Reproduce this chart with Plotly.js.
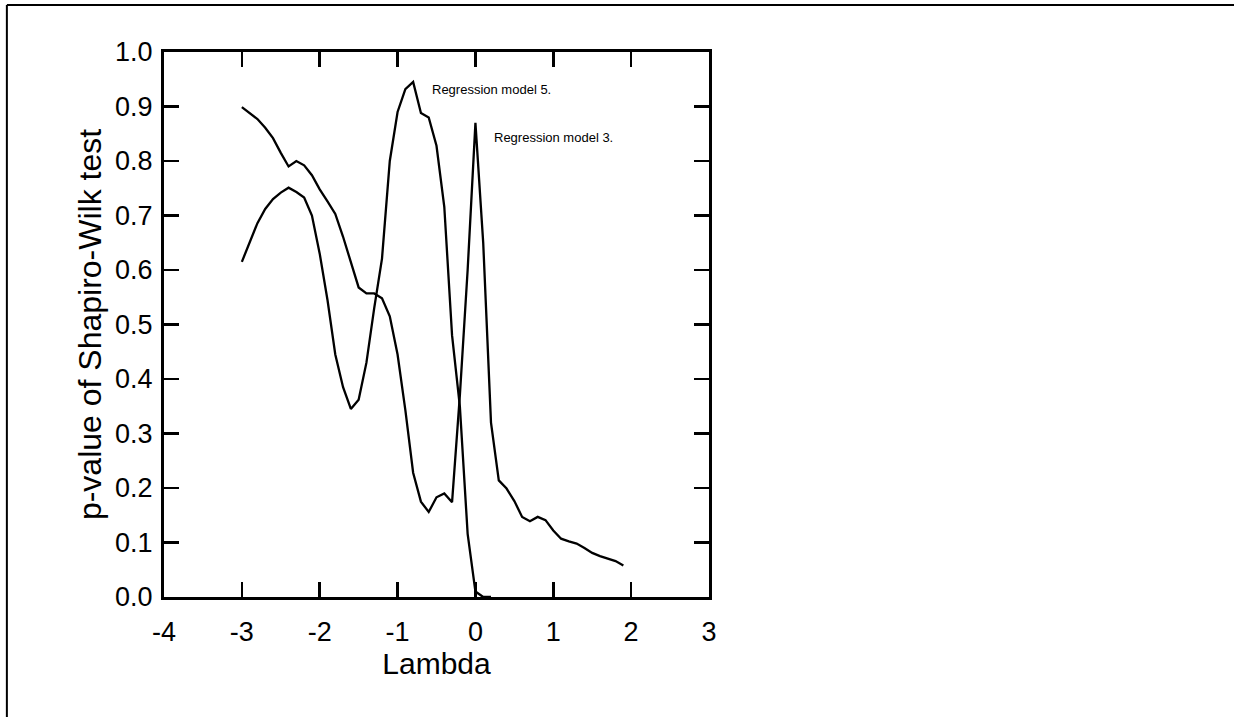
<!DOCTYPE html>
<html>
<head>
<meta charset="utf-8">
<script src="https://cdn.plot.ly/plotly-3.0.1.min.js"></script>
<style>
html,body{margin:0;padding:0;background:#fff;}
#chart{width:1234px;height:717px;}
</style>
</head>
<body>
<div id="chart"></div>
<script>
// Regression model 3
const lambda3 = [-3.0,-2.9,-2.8,-2.7,-2.6,-2.5,-2.4,-2.3,-2.2,-2.1,-2.0,-1.9,-1.8,-1.7,-1.6,-1.5,-1.4,-1.3,-1.2,-1.1,-1.0,-0.9,-0.8,-0.7,-0.6,-0.5,-0.4,-0.3,-0.2,-0.1,0.0,0.1,0.2,0.3,0.4,0.5,0.6,0.7,0.8,0.9,1.0,1.1,1.2,1.3,1.4,1.5,1.6,1.7,1.8,1.9];
const pval3 = [0.899,0.888,0.877,0.861,0.842,0.815,0.790,0.800,0.792,0.774,0.748,0.726,0.703,0.661,0.615,0.568,0.557,0.557,0.548,0.515,0.445,0.343,0.228,0.175,0.156,0.183,0.190,0.174,0.370,0.600,0.870,0.650,0.320,0.214,0.199,0.176,0.147,0.139,0.147,0.141,0.122,0.107,0.102,0.098,0.090,0.081,0.075,0.071,0.066,0.058];
// Regression model 5
const lambda5 = [-3.0,-2.9,-2.8,-2.7,-2.6,-2.5,-2.4,-2.3,-2.2,-2.1,-2.0,-1.9,-1.8,-1.7,-1.6,-1.5,-1.4,-1.3,-1.2,-1.1,-1.0,-0.9,-0.8,-0.7,-0.6,-0.5,-0.4,-0.3,-0.2,-0.1,0.0,0.1,0.2];
const pval5 = [0.615,0.652,0.686,0.712,0.730,0.742,0.751,0.743,0.733,0.700,0.630,0.545,0.445,0.385,0.345,0.362,0.430,0.530,0.621,0.800,0.890,0.932,0.945,0.888,0.880,0.828,0.716,0.480,0.350,0.116,0.010,0.0,0.0];

const xTicks = [-4,-3,-2,-1,0,1,2,3];
const yTicks = [0.0,0.1,0.2,0.3,0.4,0.5,0.6,0.7,0.8,0.9,1.0];
const yTickText = ['0.0','0.1','0.2','0.3','0.4','0.5','0.6','0.7','0.8','0.9','1.0'];

const labels = ['Regression model 5.', 'Regression model 3.'];
const labelX = [-0.58, 0.21];
const labelY = [0.932, 0.844];

const font = 'Arial, "Liberation Sans", sans-serif';

const traces = [
  {x: lambda3, y: pval3, mode: 'lines', line: {color: '#000', width: 2.3}, hoverinfo: 'skip', showlegend: false},
  {x: lambda5, y: pval5, mode: 'lines', line: {color: '#000', width: 2.3}, hoverinfo: 'skip', showlegend: false}
];

const axisCommon = {
  showgrid: false, zeroline: false, showline: true, linecolor: '#000', linewidth: 3,
  mirror: 'ticks', ticks: 'inside', ticklen: 15, tickwidth: 2.5, tickcolor: '#000',
  tickfont: {family: font, size: 27, color: '#000'}, fixedrange: true
};

const layout = {
  width: 1234, height: 717,
  margin: {l: 164, r: 525, t: 52, b: 120, pad: 0},
  paper_bgcolor: '#fff', plot_bgcolor: '#fff',
  font: {family: font, color: '#000'},
  xaxis: Object.assign({}, axisCommon, {
    range: [-4, 3], tickvals: xTicks, ticktext: xTicks.map(String),
    ticklabelstandoff: 9, automargin: true,
    title: {text: 'Lambda', font: {family: font, size: 30, color: '#000'}, standoff: 6}
  }),
  yaxis: Object.assign({}, axisCommon, {
    range: [0, 1], tickvals: yTicks, ticktext: yTickText,
    ticklabelstandoff: 3,
    title: {text: 'p-value of Shapiro-Wilk test', font: {family: font, size: 32, color: '#000'}, standoff: 4}
  }),
  annotations: labels.map((t, i) => ({
    x: labelX[i], y: labelY[i], xref: 'x', yref: 'y', text: t, showarrow: false,
    xanchor: 'left', yanchor: 'middle', font: {family: font, size: 13, color: '#000'}
  })),
  shapes: [
    {type: 'line', xref: 'paper', yref: 'paper', x0: -0.2883, x1: -0.2883, y0: 1.0862, y1: -0.3, line: {color: '#000', width: 2}},
    {type: 'line', xref: 'paper', yref: 'paper', x0: -0.2883, x1: 2.0, y0: 1.0862, y1: 1.0862, line: {color: '#000', width: 2}}
  ]
};

Plotly.newPlot('chart', traces, layout, {displayModeBar: false, staticPlot: true});
</script>
</body>
</html>
